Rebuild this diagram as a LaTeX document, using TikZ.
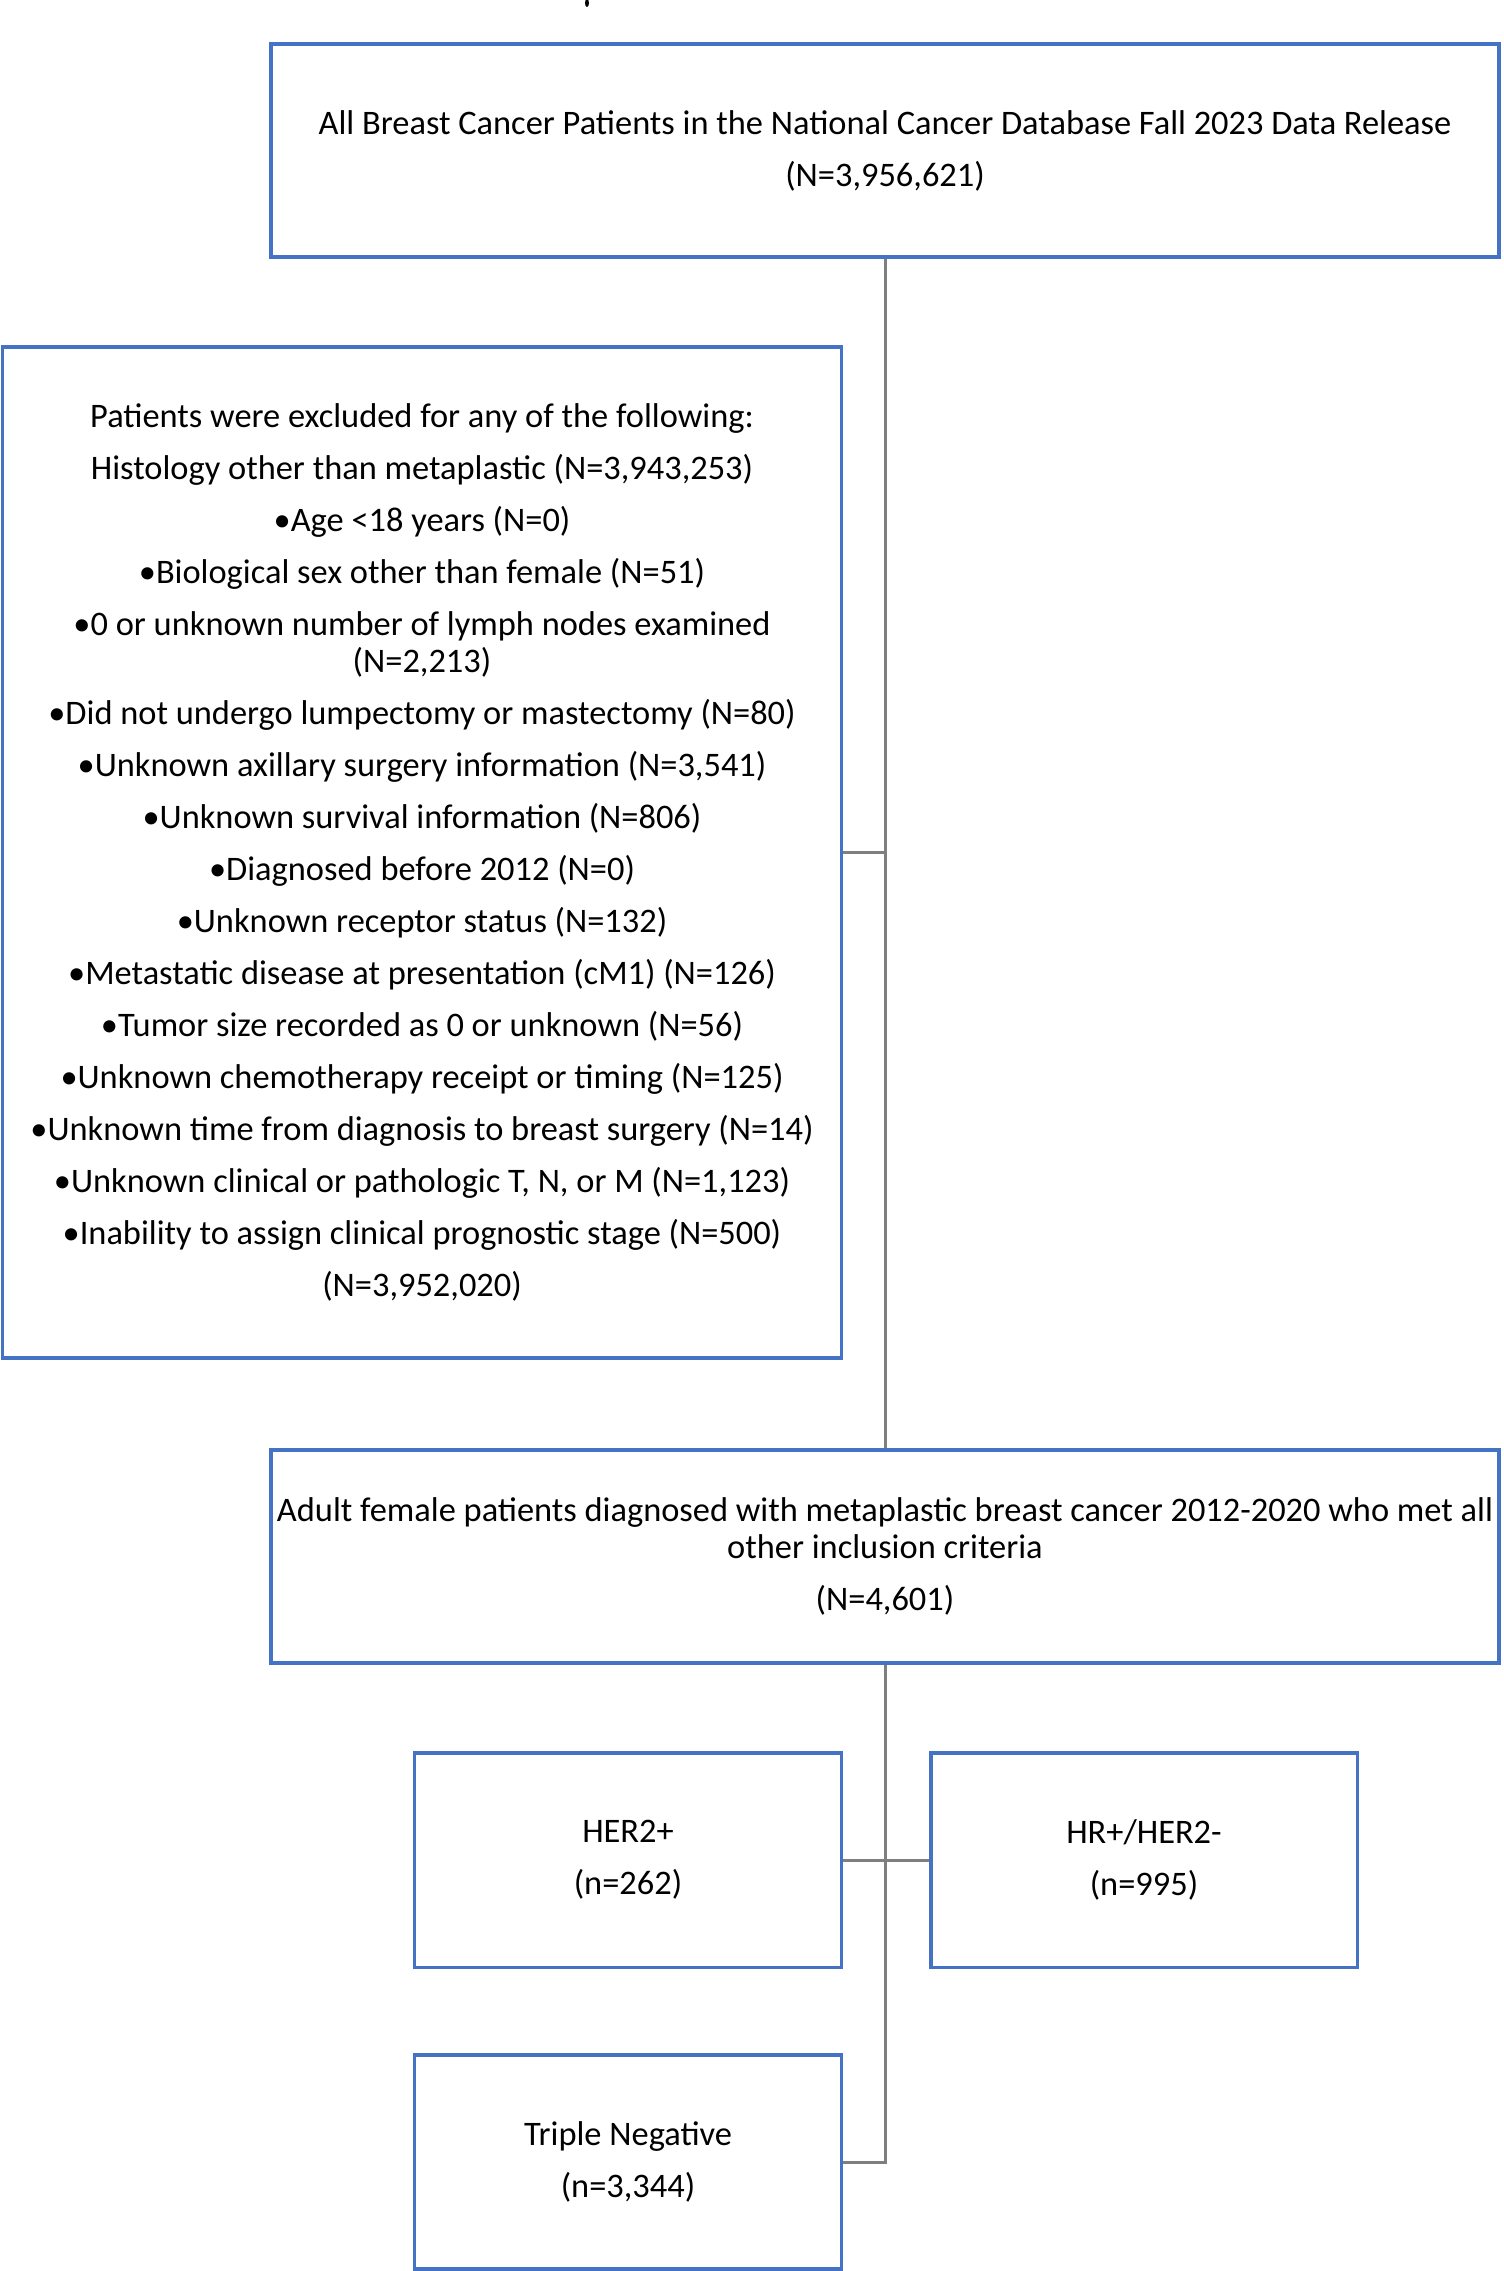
\documentclass[tikz,border=0pt]{standalone}
\usepackage{fontspec}
\setmainfont{Carlito}
\definecolor{boxblue}{HTML}{4472C4}
\definecolor{linegray}{HTML}{7F7F7F}
\begin{document}
\begin{tikzpicture}[x=0.5pt,y=-0.5pt,
  box/.style={draw=boxblue, line width=1.75pt, inner sep=0pt, align=center,
    font=\fontsize{17.2}{18.8}\selectfont, text=black},
  conn/.style={draw=linegray, line width=1.5pt}]
\useasboundingbox (0,0) rectangle (1504,2271);
\fill[black] (587,3) ellipse [x radius=2, y radius=4];
\node[box, minimum width=614pt, minimum height=106.5pt] (all) at (885,150.5)
  {All Breast Cancer Patients in the National Cancer Database Fall 2023 Data Release\\[7.2pt] (N=3,956,621)};
\node[box, minimum width=419.5pt, minimum height=505.5pt] (excl) at (422,852.5)
  {Patients were excluded for any of the following:\\[7.2pt]
   Histology other than metaplastic (N=3,943,253)\\[7.2pt]
   •Age <18 years (N=0)\\[7.2pt]
   •Biological sex other than female (N=51)\\[7.2pt]
   •0 or unknown number of lymph nodes examined\\
   (N=2,213)\\[7.2pt]
   •Did not undergo lumpectomy or mastectomy (N=80)\\[7.2pt]
   •Unknown axillary surgery information (N=3,541)\\[7.2pt]
   •Unknown survival information (N=806)\\[7.2pt]
   •Diagnosed before 2012 (N=0)\\[7.2pt]
   •Unknown receptor status (N=132)\\[7.2pt]
   •Metastatic disease at presentation (cM1) (N=126)\\[7.2pt]
   •Tumor size recorded as 0 or unknown (N=56)\\[7.2pt]
   •Unknown chemotherapy receipt or timing (N=125)\\[7.2pt]
   •Unknown time from diagnosis to breast surgery (N=14)\\[7.2pt]
   •Unknown clinical or pathologic T, N, or M (N=1,123)\\[7.2pt]
   •Inability to assign clinical prognostic stage (N=500)\\[7.2pt]
   (N=3,952,020)};
\node[box, minimum width=614pt, minimum height=106.5pt] (mid) at (885,1556.5)
  {Adult female patients diagnosed with metaplastic breast cancer 2012-2020 who met all\\
   other inclusion criteria\\[7.2pt] (N=4,601)};
\node[box, minimum width=213.5pt, minimum height=107.25pt] (her2) at (628,1860)
  {HER2+\\[7.2pt] (n=262)};
\node[box, minimum width=213.25pt, minimum height=107.25pt] (hr) at (1144,1860)
  {HR+/HER2-\\[7.2pt] (n=995)};
\node[box, minimum width=213.5pt, minimum height=107pt] (tn) at (628,2162)
  {Triple Negative\\[7.2pt] (n=3,344)};
\draw[conn] (all.south) -- (mid.north);
\draw[conn] (excl.east) -- (excl.east -| all.south);
\draw[conn] (mid.south) -- (tn.east -| mid.south) -- (tn.east);
\draw[conn] (her2.east) -- (hr.west);
\end{tikzpicture}
\end{document}
